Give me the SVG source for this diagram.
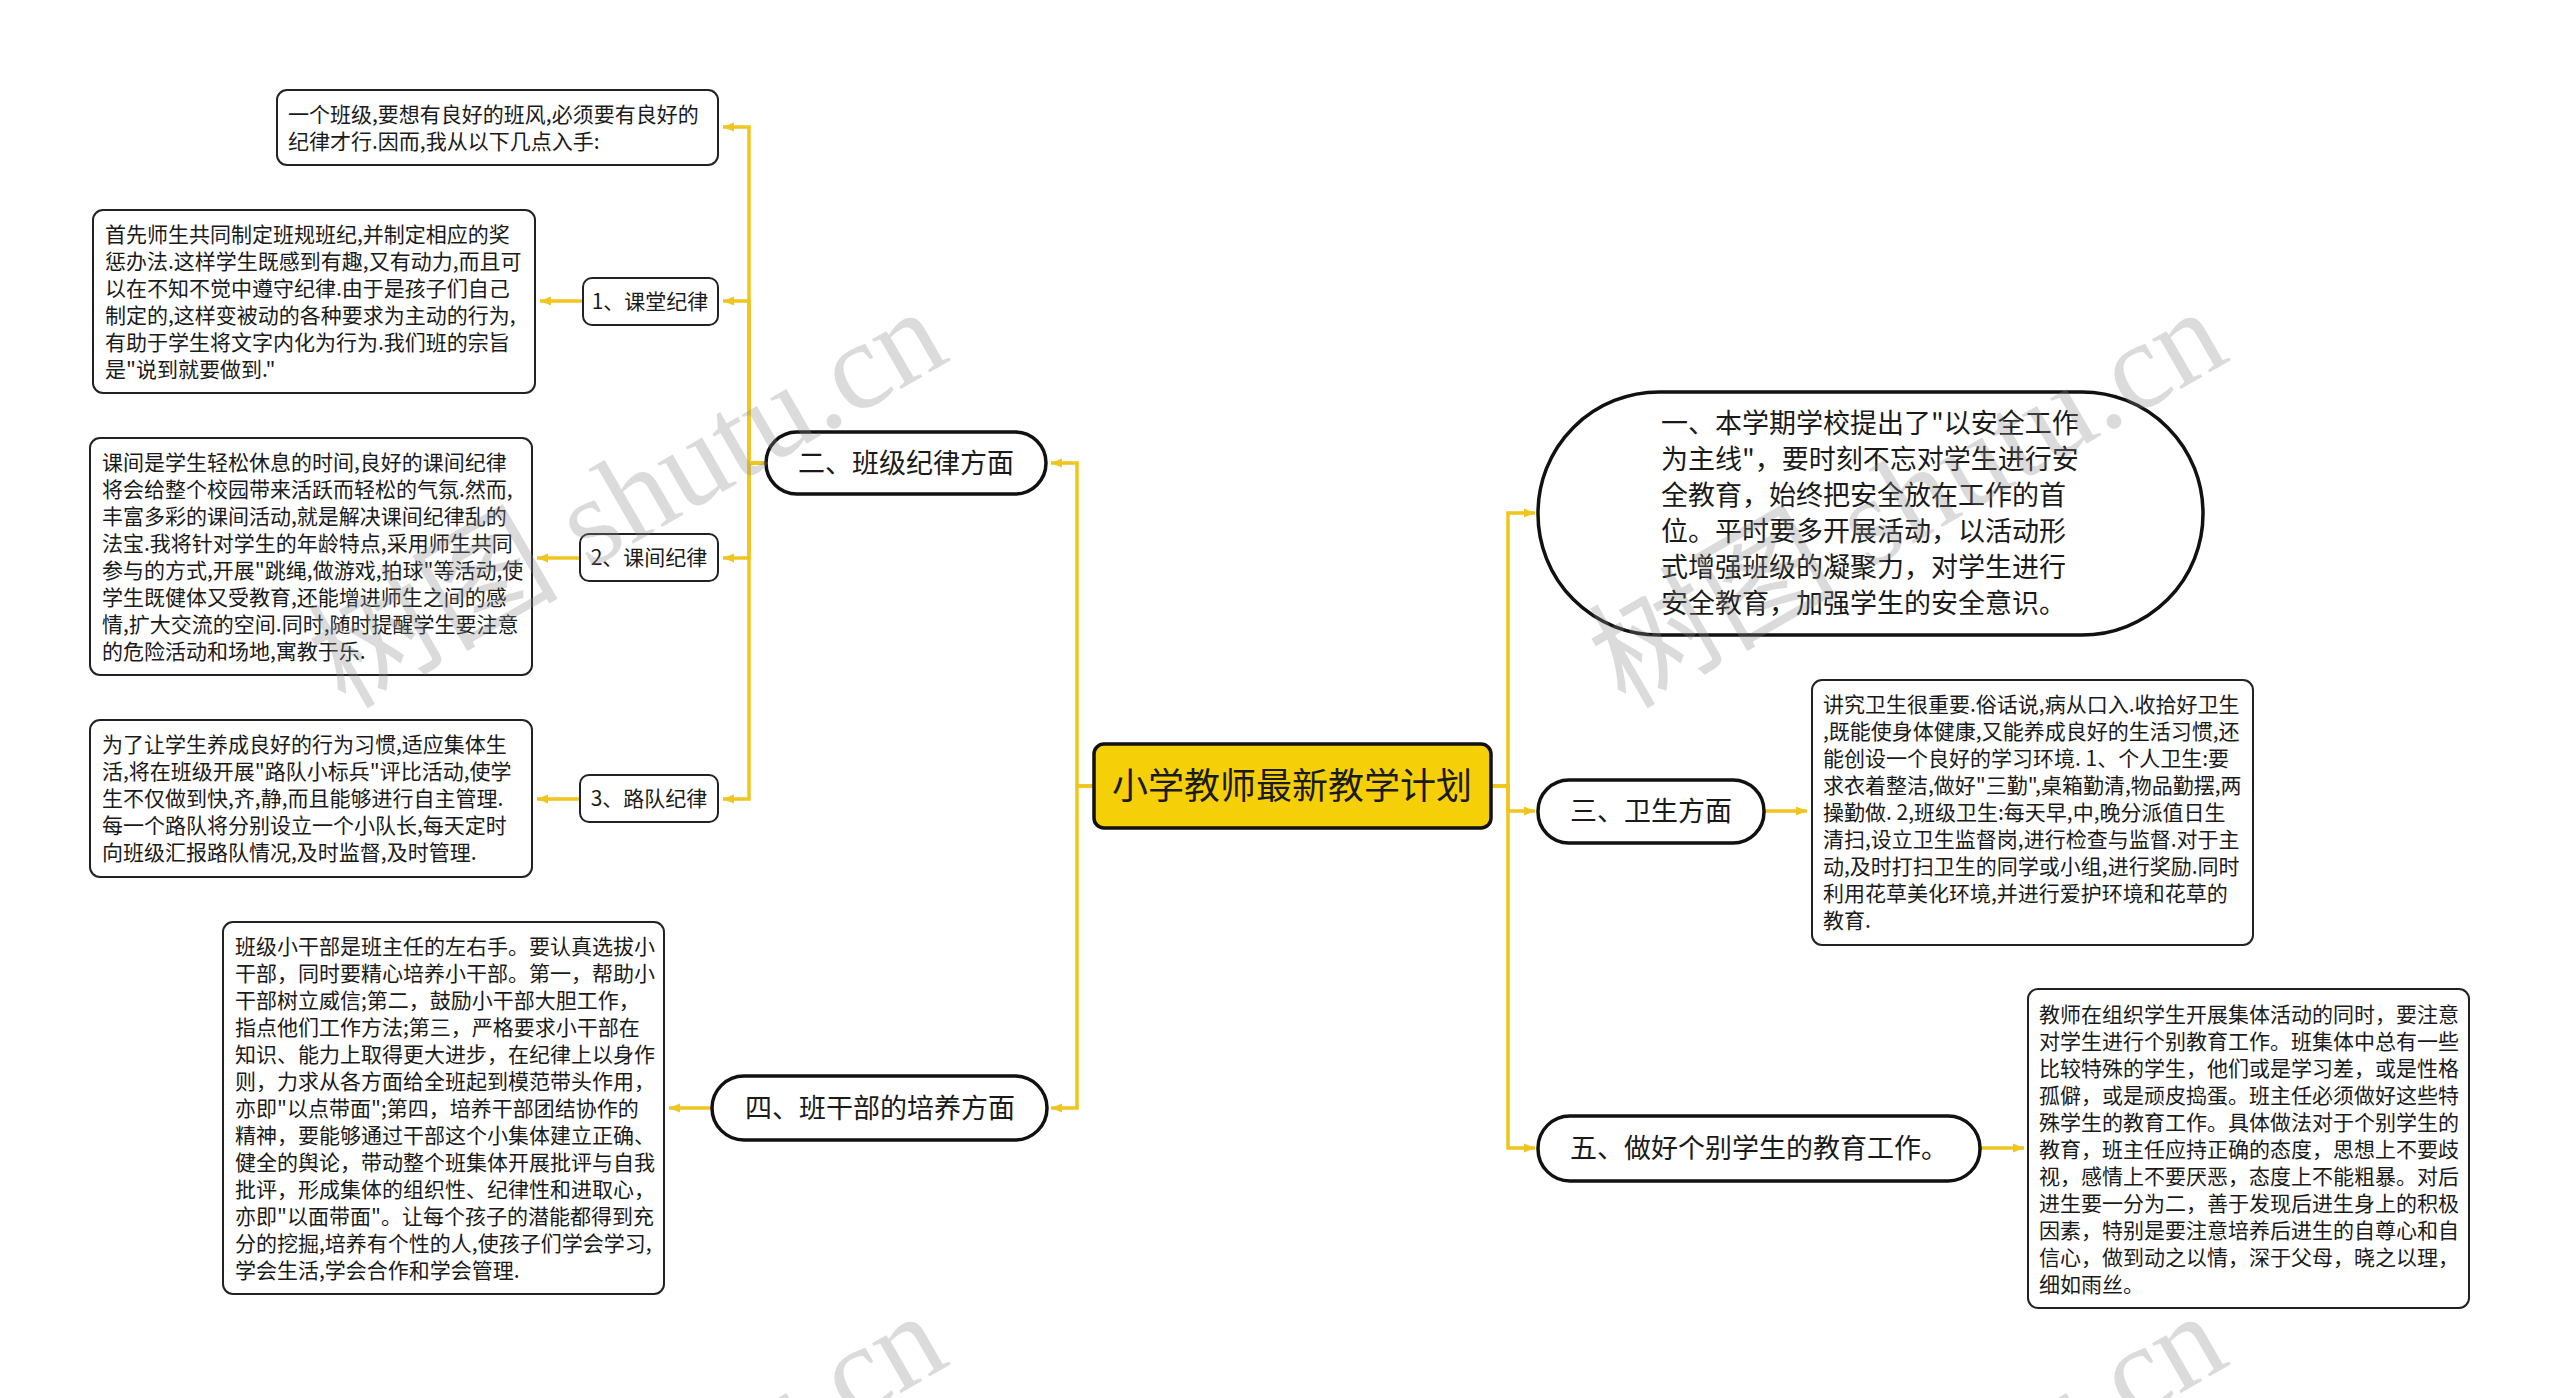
<svg xmlns="http://www.w3.org/2000/svg" width="2560" height="1398" viewBox="0 0 2560 1398">
<style>
text{font-family:"Noto Sans CJK SC","Noto Sans",sans-serif;fill:#1a1a1a}
.pill{fill:#fff;stroke:#111;stroke-width:3.5}
.box{fill:#fff;stroke:#222;stroke-width:2}
.root{fill:#F5CF08;stroke:#111;stroke-width:3.5}
.t21{font-size:21px}
.t27{font-size:27px}
.lbl{font-size:21px;text-anchor:middle}
.mid{text-anchor:middle}
.conn path{fill:none;stroke:#EFC51E;stroke-width:3.5}
.wm{font-family:"Liberation Serif","Noto Sans CJK SC",serif;font-size:125px;fill:#8a8a8a;opacity:0.3}
</style>
<defs>
<marker id="ah" markerUnits="userSpaceOnUse" markerWidth="12" markerHeight="12" refX="11" refY="6" orient="auto">
<path d="M0,1.5 L11,6 L0,10.5 z" fill="#EFC51E"/>
</marker>
</defs>
<rect width="2560" height="1398" fill="#fff"/>
<g class="conn">
<path d="M1094,786 H1077 V463 H1051" marker-end="url(#ah)"/>
<path d="M1094,786 H1077 V1108 H1051" marker-end="url(#ah)"/>
<path d="M1491,786 H1508 V513 H1535" marker-end="url(#ah)"/>
<path d="M1491,786 H1508 V811 H1535" marker-end="url(#ah)"/>
<path d="M1491,786 H1508 V1148 H1535" marker-end="url(#ah)"/>
<path d="M766,463 H749 V127 H723" marker-end="url(#ah)"/>
<path d="M766,463 H749 V301 H723" marker-end="url(#ah)"/>
<path d="M766,463 H749 V558 H723" marker-end="url(#ah)"/>
<path d="M766,463 H749 V799 H723" marker-end="url(#ah)"/>
<path d="M583,301 H540" marker-end="url(#ah)"/>
<path d="M580,558 H537" marker-end="url(#ah)"/>
<path d="M580,799 H537" marker-end="url(#ah)"/>
<path d="M712,1108 H669" marker-end="url(#ah)"/>
<path d="M1764,811 H1807" marker-end="url(#ah)"/>
<path d="M1980,1148 H2024" marker-end="url(#ah)"/>
</g>
<g id="root">
<rect class="root" x="1094" y="744" width="397" height="84" rx="10"/>
<text x="1292" y="799" font-size="36" class="mid">小学教师最新教学计划</text>
</g>
<g id="n2">
<rect class="pill" x="766" y="432" width="280" height="62" rx="31"/>
<text x="906" y="473" class="t27 mid">二、班级纪律方面</text>
</g>
<g id="n4">
<rect class="pill" x="712" y="1076" width="335" height="64" rx="32"/>
<text x="880" y="1118" class="t27 mid">四、班干部的培养方面</text>
</g>
<g id="n1">
<rect class="pill" x="1538" y="392" width="665" height="243" rx="121"/>
<text class="t27" x="1661" y="433">
<tspan x="1661" dy="0">一、本学期学校提出了"以安全工作</tspan>
<tspan x="1661" dy="36">为主线"，要时刻不忘对学生进行安</tspan>
<tspan x="1661" dy="36">全教育，始终把安全放在工作的首</tspan>
<tspan x="1661" dy="36">位。平时要多开展活动，以活动形</tspan>
<tspan x="1661" dy="36">式增强班级的凝聚力，对学生进行</tspan>
<tspan x="1661" dy="36">安全教育，加强学生的安全意识。</tspan>
</text>
</g>
<g id="n3">
<rect class="pill" x="1538" y="780" width="226" height="63" rx="31"/>
<text x="1651" y="821" class="t27 mid">三、卫生方面</text>
</g>
<g id="n5">
<rect class="pill" x="1538" y="1116" width="442" height="65" rx="32"/>
<text x="1759" y="1158" class="t27 mid">五、做好个别学生的教育工作。</text>
</g>
<g id="s1">
<rect class="box" x="583" y="278" width="135" height="47" rx="9"/>
<text x="650" y="309" class="lbl">1、课堂纪律</text>
</g>
<g id="s2">
<rect class="box" x="580" y="534" width="138" height="47" rx="9"/>
<text x="649" y="565" class="lbl">2、课间纪律</text>
</g>
<g id="s3">
<rect class="box" x="580" y="775" width="138" height="47" rx="9"/>
<text x="649" y="806" class="lbl">3、路队纪律</text>
</g>
<g id="b0">
<rect class="box" x="277" y="90" width="441" height="75" rx="10"/>
<text class="t21" x="288" y="122">
<tspan x="288" dy="0">一个班级,要想有良好的班风,必须要有良好的</tspan>
<tspan x="288" dy="27">纪律才行.因而,我从以下几点入手:</tspan>
</text>
</g>
<g id="b1">
<rect class="box" x="93" y="210" width="442" height="183" rx="10"/>
<text class="t21" x="105" y="242">
<tspan x="105" dy="0">首先师生共同制定班规班纪,并制定相应的奖</tspan>
<tspan x="105" dy="27">惩办法.这样学生既感到有趣,又有动力,而且可</tspan>
<tspan x="105" dy="27">以在不知不觉中遵守纪律.由于是孩子们自己</tspan>
<tspan x="105" dy="27">制定的,这样变被动的各种要求为主动的行为,</tspan>
<tspan x="105" dy="27">有助于学生将文字内化为行为.我们班的宗旨</tspan>
<tspan x="105" dy="27">是"说到就要做到."</tspan>
</text>
</g>
<g id="b2">
<rect class="box" x="90" y="438" width="442" height="237" rx="10"/>
<text class="t21" x="102" y="470">
<tspan x="102" dy="0">课间是学生轻松休息的时间,良好的课间纪律</tspan>
<tspan x="102" dy="27">将会给整个校园带来活跃而轻松的气氛.然而,</tspan>
<tspan x="102" dy="27">丰富多彩的课间活动,就是解决课间纪律乱的</tspan>
<tspan x="102" dy="27">法宝.我将针对学生的年龄特点,采用师生共同</tspan>
<tspan x="102" dy="27">参与的方式,开展"跳绳,做游戏,拍球"等活动,使</tspan>
<tspan x="102" dy="27">学生既健体又受教育,还能增进师生之间的感</tspan>
<tspan x="102" dy="27">情,扩大交流的空间.同时,随时提醒学生要注意</tspan>
<tspan x="102" dy="27">的危险活动和场地,寓教于乐.</tspan>
</text>
</g>
<g id="b3">
<rect class="box" x="90" y="720" width="442" height="157" rx="10"/>
<text class="t21" x="102" y="752">
<tspan x="102" dy="0">为了让学生养成良好的行为习惯,适应集体生</tspan>
<tspan x="102" dy="27">活,将在班级开展"路队小标兵"评比活动,使学</tspan>
<tspan x="102" dy="27">生不仅做到快,齐,静,而且能够进行自主管理.</tspan>
<tspan x="102" dy="27">每一个路队将分别设立一个小队长,每天定时</tspan>
<tspan x="102" dy="27">向班级汇报路队情况,及时监督,及时管理.</tspan>
</text>
</g>
<g id="b4">
<rect class="box" x="223" y="922" width="441" height="372" rx="10"/>
<text class="t21" x="235" y="954">
<tspan x="235" dy="0">班级小干部是班主任的左右手。要认真选拔小</tspan>
<tspan x="235" dy="27">干部，同时要精心培养小干部。第一，帮助小</tspan>
<tspan x="235" dy="27">干部树立威信;第二，鼓励小干部大胆工作，</tspan>
<tspan x="235" dy="27">指点他们工作方法;第三，严格要求小干部在</tspan>
<tspan x="235" dy="27">知识、能力上取得更大进步，在纪律上以身作</tspan>
<tspan x="235" dy="27">则，力求从各方面给全班起到模范带头作用，</tspan>
<tspan x="235" dy="27">亦即"以点带面";第四，培养干部团结协作的</tspan>
<tspan x="235" dy="27">精神，要能够通过干部这个小集体建立正确、</tspan>
<tspan x="235" dy="27">健全的舆论，带动整个班集体开展批评与自我</tspan>
<tspan x="235" dy="27">批评，形成集体的组织性、纪律性和进取心，</tspan>
<tspan x="235" dy="27">亦即"以面带面"。让每个孩子的潜能都得到充</tspan>
<tspan x="235" dy="27">分的挖掘,培养有个性的人,使孩子们学会学习,</tspan>
<tspan x="235" dy="27">学会生活,学会合作和学会管理.</tspan>
</text>
</g>
<g id="b5">
<rect class="box" x="1812" y="680" width="441" height="265" rx="10"/>
<text class="t21" x="1823" y="712">
<tspan x="1823" dy="0">讲究卫生很重要.俗话说,病从口入.收拾好卫生</tspan>
<tspan x="1823" dy="27">,既能使身体健康,又能养成良好的生活习惯,还</tspan>
<tspan x="1823" dy="27">能创设一个良好的学习环境. 1、个人卫生:要</tspan>
<tspan x="1823" dy="27">求衣着整洁,做好"三勤",桌箱勤清,物品勤摆,两</tspan>
<tspan x="1823" dy="27">操勤做. 2,班级卫生:每天早,中,晚分派值日生</tspan>
<tspan x="1823" dy="27">清扫,设立卫生监督岗,进行检查与监督.对于主</tspan>
<tspan x="1823" dy="27">动,及时打扫卫生的同学或小组,进行奖励.同时</tspan>
<tspan x="1823" dy="27">利用花草美化环境,并进行爱护环境和花草的</tspan>
<tspan x="1823" dy="27">教育.</tspan>
</text>
</g>
<g id="b6">
<rect class="box" x="2028" y="989" width="441" height="319" rx="10"/>
<text class="t21" x="2039" y="1022">
<tspan x="2039" dy="0">教师在组织学生开展集体活动的同时，要注意</tspan>
<tspan x="2039" dy="27">对学生进行个别教育工作。班集体中总有一些</tspan>
<tspan x="2039" dy="27">比较特殊的学生，他们或是学习差，或是性格</tspan>
<tspan x="2039" dy="27">孤僻，或是顽皮捣蛋。班主任必须做好这些特</tspan>
<tspan x="2039" dy="27">殊学生的教育工作。具体做法对于个别学生的</tspan>
<tspan x="2039" dy="27">教育，班主任应持正确的态度，思想上不要歧</tspan>
<tspan x="2039" dy="27">视，感情上不要厌恶，态度上不能粗暴。对后</tspan>
<tspan x="2039" dy="27">进生要一分为二，善于发现后进生身上的积极</tspan>
<tspan x="2039" dy="27">因素，特别是要注意培养后进生的自尊心和自</tspan>
<tspan x="2039" dy="27">信心，做到动之以情，深于父母，晓之以理，</tspan>
<tspan x="2039" dy="27">细如雨丝。</tspan>
</text>
</g>
<g id="watermark">
<text class="wm" transform="translate(345,710) rotate(-30)">树图 shutu.cn</text>
<text class="wm" transform="translate(1625,710) rotate(-30)">树图 shutu.cn</text>
<text class="wm" transform="translate(345,1714) rotate(-30)">树图 shutu.cn</text>
<text class="wm" transform="translate(1625,1714) rotate(-30)">树图 shutu.cn</text>
</g>
</svg>
